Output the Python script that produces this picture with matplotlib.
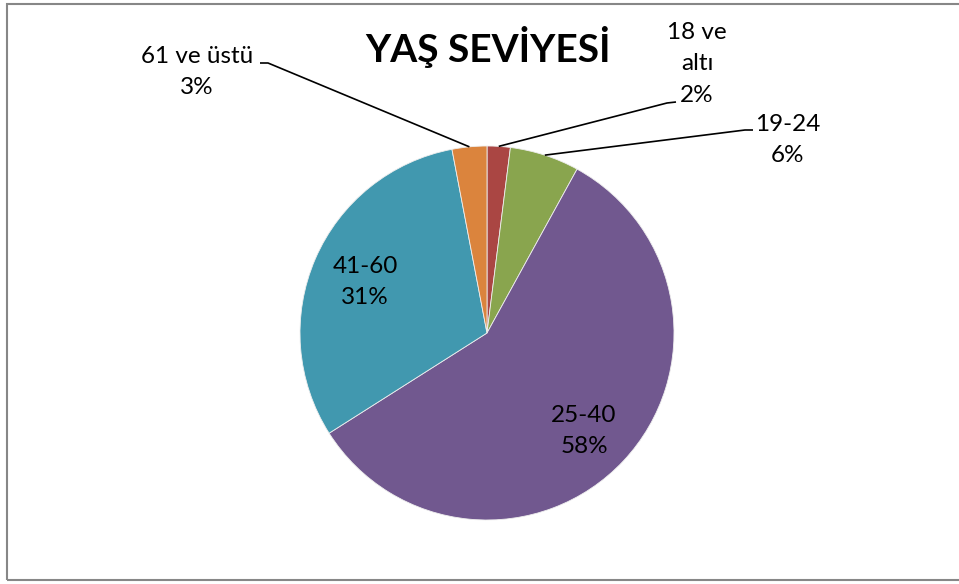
import numpy as np
import matplotlib.pyplot as plt
from matplotlib.patches import Rectangle

plt.rcParams['font.family'] = ['Lato', 'DejaVu Sans']

labels = ["18 ve\naltı", "19-24", "25-40", "41-60", "61 ve üstü"]
values = [2, 6, 58, 31, 3]
colors = ["#AA4643", "#89A54E", "#71588F", "#4198AF", "#DB843D"]

W, H = 959, 584
fig = plt.figure(figsize=(W / 100, H / 100), dpi=100)
ax = fig.add_axes([0, 0, 1, 1])

cx, cy, r = 487, H - 333, 187
wedges, _ = ax.pie(values, colors=colors, startangle=90, counterclock=False,
                   center=(cx, cy), radius=r, frame=True,
                   wedgeprops=dict(edgecolor="#eeeeee", linewidth=0.6))
ax.set_xlim(0, W)
ax.set_ylim(0, H)
ax.set_aspect("equal")
ax.axis("off")

# chart border (right edge is cut off in the original)
ax.add_patch(Rectangle((7, H - 580), 960, 576, fill=False,
                       edgecolor="#878787", linewidth=1.5))

ax.text(488, H - 47, "YAŞ SEVİYESİ", ha="center", va="center",
        fontsize=28, fontweight="bold", color="black")

total = sum(values)
pcts = [f"{v / total * 100:.0f}%" for v in values]

# label boxes: (center x, center y in pixels from top, outside?)
label_pos = {
    0: (697, 64, "right"),
    1: (788, 140, "right"),
    2: (584, 431, None),
    3: (365, 282, None),
    4: (197, 72, "left"),
}
elbows = {0: [(667, 103), (676, 102)], 1: [(745, 130), (753, 130)],
          4: [(268, 63), (260, 63)]}

for i, w in enumerate(wedges):
    x, y, side = label_pos[i]
    ax.text(x, H - y, labels[i] + "\n" + pcts[i], ha="center", va="center",
            fontsize=17.5, linespacing=1.6, color="black")
    if side is not None:
        mid = np.deg2rad((w.theta1 + w.theta2) / 2)
        ex, ey = cx + r * np.cos(mid), cy + r * np.sin(mid)
        pts = [(ex, ey)] + [(px, H - py) for px, py in elbows[i]]
        ax.plot([p[0] for p in pts], [p[1] for p in pts], color="black",
                linewidth=1.2, solid_capstyle="butt")

fig.savefig("out.png", dpi=100)
